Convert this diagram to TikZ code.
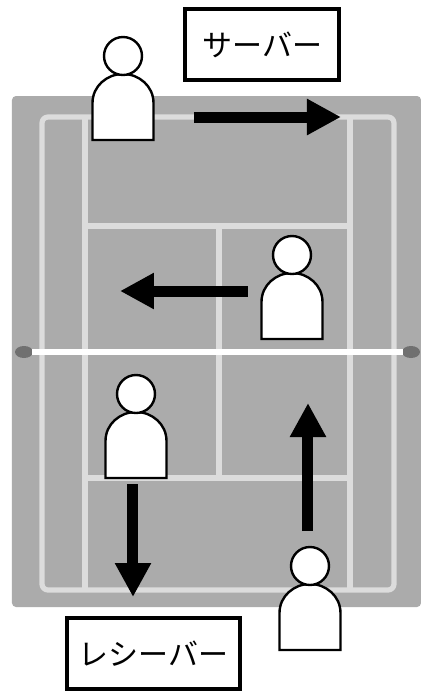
\documentclass[tikz,border=0pt]{standalone}
\usepackage{xcolor}
\usepackage{fontspec}
\newfontfamily\cjk{Noto Sans CJK JP}
\usetikzlibrary{arrows.meta}
\definecolor{courtgrey}{HTML}{ABABAB}
\definecolor{linegrey}{HTML}{DCDCDC}
\definecolor{postgrey}{HTML}{707070}
\tikzset{
  courtline/.style={linegrey,line width=2.6pt},
  labelbox/.style={draw=black,line width=2pt,fill=white,inner sep=0pt,font=\cjk\fontsize{15pt}{16pt}\selectfont},
  movearrow/.style={line width=5.5pt,-{Triangle[length=17pt,width=17pt]}},
  person/.pic={
    \draw[black,line width=1.2pt,fill=white] (-30.5,42) -- (-30.5,5) .. controls (-30.5,-12) and (-16,-24) .. (0,-24) .. controls (16,-24) and (30.5,-12) .. (30.5,5) -- (30.5,42) -- cycle;
    \draw[black,line width=1.2pt,fill=white] (0,-42) circle [radius=19];
  }
}
\begin{document}
\begin{tikzpicture}[x=0.5pt,y=-0.5pt]
  \useasboundingbox (0,0) rectangle (421,693);
  \fill[white] (0,0) rectangle (421,693);
  % court
  \fill[courtgrey,rounded corners=2pt] (12,96) rectangle (421,607);
  \draw[courtline,rounded corners=3pt] (42,117) rectangle (394,590);
  \draw[courtline] (85,117) -- (85,590);
  \draw[courtline] (350,117) -- (350,590);
  \draw[courtline] (85,226) -- (350,226);
  \draw[courtline] (85,478) -- (350,478);
  \draw[courtline] (219,226) -- (219,478);
  % net
  \fill[postgrey] (24,352) ellipse [x radius=9,y radius=6];
  \fill[postgrey] (411,352) ellipse [x radius=9,y radius=6];
  \draw[white,line width=3.2pt] (32,352) -- (403,352);
  % players
  \pic at (123,98) {person};
  \pic at (292,297) {person};
  \pic at (136,436) {person};
  \pic at (310,608) {person};
  % labels
  \node[labelbox,minimum width=77pt,minimum height=35.5pt] (server) at (262.5,44.5) {サーバー};
  \node[labelbox,minimum width=86.5pt,minimum height=35.5pt] (receiver) at (153.5,653.5) {レシーバー};
  % moves
  \coordinate (servera) at (194,117);
  \coordinate (serverb) at (341,117);
  \coordinate (netpa) at (248,291);
  \coordinate (netpb) at (120,291);
  \coordinate (recva) at (133,484);
  \coordinate (recvb) at (133,597);
  \coordinate (partnera) at (308,531);
  \coordinate (partnerb) at (308,403);
  \draw[movearrow] (servera) -- (serverb);
  \draw[movearrow] (netpa) -- (netpb);
  \draw[movearrow] (recva) -- (recvb);
  \draw[movearrow] (partnera) -- (partnerb);
\end{tikzpicture}
\end{document}
